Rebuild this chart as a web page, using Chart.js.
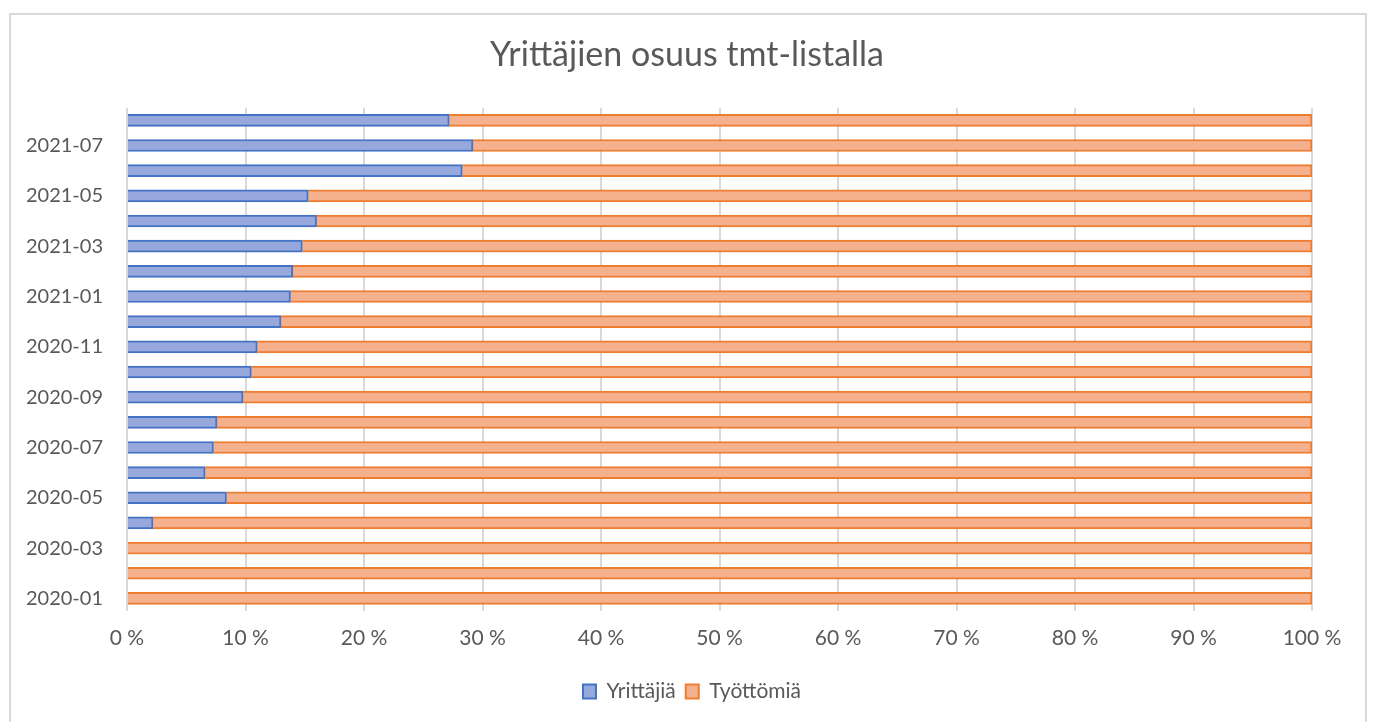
<!DOCTYPE html>
<html>
<head>
<meta charset="utf-8">
<script src="https://cdn.jsdelivr.net/npm/chart.js@4"></script>
<style>
  html, body { margin: 0; padding: 0; background: #fff; }
  #wrap { width: 1373px; height: 722px; }
</style>
</head>
<body>
<div id="wrap"><canvas id="c" width="1373" height="722"></canvas></div>
<script>
const months = ['2020-01','2020-02','2020-03','2020-04','2020-05','2020-06','2020-07','2020-08','2020-09','2020-10',
  '2020-11','2020-12','2021-01','2021-02','2021-03','2021-04','2021-05','2021-06','2021-07','2021-08'];
// share of entrepreneurs, percent
const yrittajia = [0, 0, 0, 2.2, 8.4, 6.6, 7.3, 7.6, 9.8, 10.5, 11.0, 13.0, 13.8, 14.0, 14.8, 16.0, 15.3, 28.3, 29.2, 27.2];
const tyottomia = yrittajia.map(v => 100 - v);
const xTicks = [0, 10, 20, 30, 40, 50, 60, 70, 80, 90, 100];

const grey = '#595959';
const font = "Lato, 'Open Sans', sans-serif";

const frame = {
  id: 'frame',
  beforeDraw(chart) {
    const ctx = chart.ctx;
    ctx.save();
    ctx.strokeStyle = '#d9d9d9';
    ctx.lineWidth = 2;
    ctx.strokeRect(10, 14, 1356, 720);
    ctx.restore();
  },
  // title and legend sit centred on the whole frame, not on the padded box
  afterLayout(chart) {
    chart.titleBlock.left += 31;
    chart.titleBlock.right += 31;
    chart.legend.left += 36;
    chart.legend.right += 36;
  }
};

new Chart(document.getElementById('c'), {
  type: 'bar',
  data: {
    labels: months,
    datasets: [
      {
        label: 'Yrittäjiä',
        data: yrittajia,
        backgroundColor: '#97a9dc',
        borderColor: '#4472c4',
        borderWidth: 2,
        barThickness: 12
      },
      {
        label: 'Työttömiä',
        data: tyottomia,
        backgroundColor: '#f5b18d',
        borderColor: '#ed7d31',
        borderWidth: 2,
        barThickness: 12
      }
    ]
  },
  options: {
    indexAxis: 'y',
    responsive: false,
    animation: false,
    layout: { padding: { left: 0, right: 61, top: 0, bottom: 10 } },
    plugins: {
      title: {
        display: true,
        text: 'Yrittäjien osuus tmt-listalla',
        color: grey,
        font: { family: font, size: 34, weight: 'normal' },
        padding: { top: 35, bottom: 32 }
      },
      legend: {
        position: 'bottom',
        labels: {
          color: grey,
          font: { family: font, size: 21 },
          boxWidth: 13,
          boxHeight: 14,
          padding: 10
        }
      },
      tooltip: { enabled: false }
    },
    scales: {
      x: {
        stacked: true,
        min: 0,
        max: 100,
        afterBuildTicks(scale) { scale.ticks = xTicks.map(v => ({ value: v })); },
        grid: { color: '#d9d9d9', lineWidth: 2, drawTicks: false },
        border: { display: false },
        ticks: {
          color: grey,
          font: { family: font, size: 21 },
          padding: 15,
          callback: v => v + ' %'
        },
        afterFit(scale) { scale.height = 60; }
      },
      y: {
        stacked: true,
        reverse: true,
        grid: { display: false },
        border: { display: false },
        ticks: {
          autoSkip: false,
          color: grey,
          font: { family: font, size: 20 },
          padding: 16,
          callback(v, i) { return i % 2 === 0 ? months[i] : ''; }
        },
        afterFit(scale) { scale.width = 127; }
      }
    }
  },
  plugins: [frame]
});
</script>
</body>
</html>
